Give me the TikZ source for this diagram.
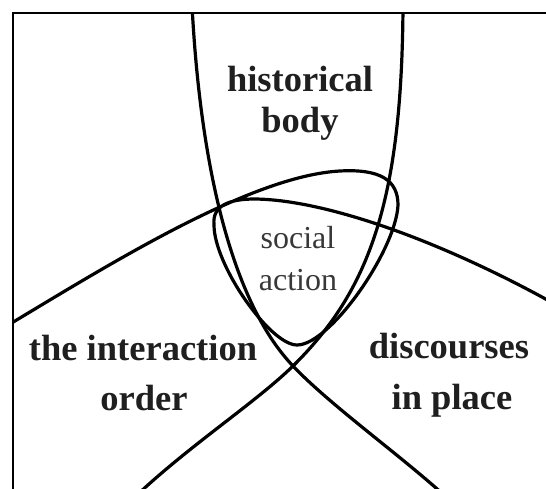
\documentclass[tikz,border=0pt]{standalone}
\usepackage{fontspec}
\setmainfont{Liberation Serif}
\begin{document}
\begin{tikzpicture}[x=1pt,y=-1pt,
  curve/.style={line width=3.2pt, line join=round, line cap=round},
  framel/.style={line width=2pt},
  boldlbl/.style={font=\fontsize{36.5}{40}\selectfont\bfseries, text=black!88, inner sep=0pt, anchor=base},
  reglbl/.style={font=\fontsize{32}{38}\selectfont, text=black!78, inner sep=0pt, anchor=base}]
\useasboundingbox (0,0) rectangle (546,489);
\fill[white] (0,0) rectangle (546,489);
\begin{scope}
\clip (13,13) rectangle (546,489);
% interaction order / discourses loop
\draw[curve] (0,330) .. controls (110,264) and (250,176) .. (340,171)
  .. controls (380,168.8) and (398,180) .. (398,205)
  .. controls (396,250) and (330,345) .. (297,345)
  .. controls (270,345) and (214,265) .. (214,225)
  .. controls (212,205) and (230,199) .. (255,199)
  .. controls (330,200) and (450,245) .. (560,307);
% historical body left line
\draw[curve] (192,5) .. controls (200,160) and (230,300) .. (293,366)
  .. controls (330,405) and (400,455) .. (445,496);
% historical body right line
\draw[curve] (403,5) .. controls (402,200) and (370,290) .. (293,366)
  .. controls (255,403) and (190,445) .. (136,496);
\end{scope}
\draw[framel] (546,13) -- (13,13) -- (13,489);
\node[boldlbl] (hist) at (300,92) {historical};
\node[boldlbl] (body) at (300,133) {body};
\node[reglbl] (soc) at (298,248) {social};
\node[reglbl] (act) at (298,290) {action};
\node[boldlbl] (inter) at (143,360) {the interaction};
\node[boldlbl] (order) at (144,410) {order};
\node[boldlbl] (disc) at (449,358) {discourses};
\node[boldlbl] (place) at (452,409) {in place};
\end{tikzpicture}
\end{document}
